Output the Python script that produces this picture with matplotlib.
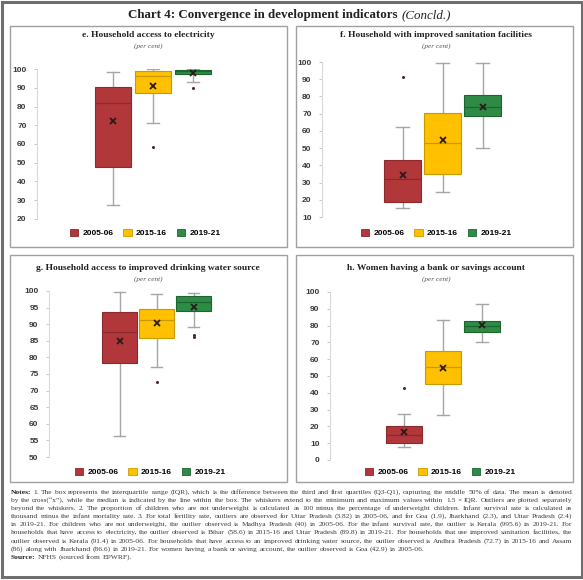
import math
import matplotlib.pyplot as plt
from matplotlib.patches import Rectangle, Patch
from matplotlib.font_manager import FontProperties

# ---- data ----
years = ["2005-06", "2015-16", "2019-21"]
colors = ["#B2373A", "#FFC000", "#2E8B45"]
edges = ["#8A2A2C", "#C99A00", "#1E6430"]

# e. Household access to electricity
elec_lo = [27.7, 71.2, 93.2]
elec_q1 = [47.5, 87.0, 97.2]
elec_med = [82.0, 96.3, 99.0]
elec_q3 = [90.6, 98.9, 99.5]
elec_hi = [98.5, 99.8, 100.0]
elec_mean = [72.5, 91.2, 98.1]
elec_out = [[], [58.6], [89.8]]

# f. Household with improved sanitation facilities
san_lo = [15.2, 24.7, 49.9]
san_q1 = [18.9, 35.2, 68.8]
san_med = [32.1, 53.2, 74.1]
san_q3 = [43.3, 70.6, 81.0]
san_hi = [62.1, 99.2, 99.6]
san_mean = [34.2, 54.9, 74.0]
san_out = [[91.4], [], []]

# g. Household access to improved drinking water source
wat_lo = [56.2, 77.2, 89.1]
wat_q1 = [78.3, 85.9, 94.0]
wat_med = [87.5, 91.2, 96.7]
wat_q3 = [93.7, 94.5, 98.5]
wat_hi = [99.6, 99.2, 99.4]
wat_mean = [84.9, 90.3, 95.3]
wat_out = [[], [72.7], [86.0, 86.6]]

# h. Women having a bank or savings account
bank_lo = [7.8, 26.5, 70.3]
bank_q1 = [10.4, 45.2, 76.3]
bank_med = [15.1, 55.4, 79.9]
bank_q3 = [20.3, 64.9, 82.9]
bank_hi = [27.5, 83.1, 92.8]
bank_mean = [16.5, 55.0, 80.1]
bank_out = [[42.9], [], []]

notes_lines = [
    "Notes: 1. The box represents the interquartile range (IQR), which is the difference between the third and first quartiles (Q3-Q1), capturing the middle 50% of data. The mean is denoted",
    "by the cross(\u201cx\u201d), while the median is indicated by the line within the box. The whiskers extend to the minimum and maximum values within 1.5 \u00d7 IQR. Outliers are plotted separately",
    "beyond the whiskers. 2. The proportion of children who are not underweight is calculated as 100 minus the percentage of underweight children. Infant survival rate is calculated as",
    "thousand minus the infant mortality rate. 3. For total fertility rate, outliers are observed for Uttar Pradesh (3.82) in 2005-06, and for Goa (1.9), Jharkhand (2.3), and Uttar Pradesh (2.4)",
    "in 2019-21. For children who are not underweight, the outlier observed is Madhya Pradesh (40) in 2005-06. For the infant survival rate, the outlier is Kerala (995.6) in 2019-21. For",
    "households that have access to electricity, the outlier observed is Bihar (58.6) in 2015-16 and Uttar Pradesh (89.8) in 2019-21. For households that use improved sanitation facilities, the",
    "outlier observed is Kerala (91.4) in 2005-06. For households that have access to an improved drinking water source, the outlier observed is Andhra Pradesh (72.7) in 2015-16 and Assam",
    "(86) along with Jharkhand (86.6) in 2019-21. For women having a bank or saving account, the outlier observed is Goa (42.9) in 2005-06.",
    "Source: NFHS (sourced from EPWRF).",
]

W, H = 583, 580
fig = plt.figure(figsize=(W / 100, H / 100), dpi=100)
fig.patch.set_facecolor("white")


def fx(px):
    return px / W


def fy(py):
    return 1 - py / H


# outer frame and panel borders
fig.add_artist(Rectangle((fx(1.5), fy(577)), fx(580), 575.5 / H, transform=fig.transFigure,
                         fill=False, edgecolor="#6E6E6E", lw=2.2))
for (x0, y0, x1, y1) in [(10, 26, 287, 247), (296, 26, 573, 247),
                         (10, 255, 287, 482), (296, 255, 573, 482)]:
    fig.add_artist(Rectangle((fx(x0), fy(y1)), fx(x1 - x0), (y1 - y0) / H,
                             transform=fig.transFigure, fill=False,
                             edgecolor="#A0A0A0", lw=1.0))

fig.text(fx(398), fy(15), "Chart 4: Convergence in development indicators", ha="right",
         va="center", family="Liberation Serif", weight="bold", fontsize=9.4,
         color="#222222")
fig.text(fx(402), fy(15), "(Concld.)", ha="left", va="center", family="Liberation Serif",
         style="italic", fontsize=9.4, color="#222222")

# panel layouts: axis-line x, y of top tick, y of bottom tick, centre of boxes, spacing (px)
panels = [
    dict(title="e. Household access to electricity", ax_x=37, top=69, bot=219, ctr=153, sp=40,
         ylim=(20, 100), step=10, lo=elec_lo, q1=elec_q1, med=elec_med, q3=elec_q3, hi=elec_hi,
         mean=elec_mean, out=elec_out, tx=148, ty=35, ly=233, lx=145),
    dict(title="f. Household with improved sanitation facilities", ax_x=322, top=62, bot=217, ctr=442.5,
         sp=40, ylim=(10, 100), step=10, lo=san_lo, q1=san_q1, med=san_med, q3=san_q3, hi=san_hi,
         mean=san_mean, out=san_out, tx=436, ty=35, ly=233, lx=436),
    dict(title="g. Household access to improved drinking water source", ax_x=49, top=291, bot=457,
         ctr=156.5, sp=37, ylim=(50, 100), step=5, lo=wat_lo, q1=wat_q1, med=wat_med, q3=wat_q3,
         hi=wat_hi, mean=wat_mean, out=wat_out, tx=148, ty=268, ly=472, lx=150),
    dict(title="h. Women having a bank or savings account", ax_x=330, top=292, bot=460, ctr=443,
         sp=39, ylim=(0, 100), step=10, lo=bank_lo, q1=bank_q1, med=bank_med, q3=bank_q3,
         hi=bank_hi, mean=bank_mean, out=bank_out, tx=436, ty=268, ly=472, lx=440),
]

for p in panels:
    half = p["ctr"] - p["ax_x"]
    ax = fig.add_axes([fx(p["ax_x"]), fy(p["bot"]), fx(2 * half), (p["bot"] - p["top"]) / H])
    stats = []
    for i in range(3):
        stats.append(dict(whislo=p["lo"][i], q1=p["q1"][i], med=p["med"][i], q3=p["q3"][i],
                          whishi=p["hi"][i], mean=p["mean"][i], fliers=p["out"][i]))
    bp = ax.bxp(stats, positions=[1, 2, 3], widths=0.92, capwidths=0.32, showmeans=True,
                patch_artist=True,
                whiskerprops=dict(color="#A6A6A6", lw=1.0),
                capprops=dict(color="#A6A6A6", lw=1.0),
                meanprops=dict(marker="x", markersize=4.5, markeredgecolor="#2A1A1A",
                               markeredgewidth=1.3),
                flierprops=dict(marker="o", markersize=2.2, markeredgewidth=0,
                                markerfacecolor="#4A2A20"))
    for i in range(3):
        bp["boxes"][i].set_facecolor(colors[i])
        bp["boxes"][i].set_edgecolor(edges[i])
        bp["boxes"][i].set_linewidth(0.8)
        bp["medians"][i].set_color(edges[i])
        bp["medians"][i].set_linewidth(0.9)
    # whiskers behind the boxes
    for ln in bp["whiskers"] + bp["caps"]:
        ln.set_zorder(1)
    xr = half / p["sp"]
    ax.set_xlim(2 - xr, 2 + xr)
    ax.set_ylim(*p["ylim"])
    ax.set_yticks(range(p["ylim"][0], p["ylim"][1] + 1, p["step"]))
    ax.set_xticks([])
    for s in ["top", "right", "bottom"]:
        ax.spines[s].set_visible(False)
    ax.spines["left"].set_color("#D9D9D9")
    ax.spines["left"].set_linewidth(0.8)
    ax.tick_params(axis="y", length=2.5, width=0.6, color="#BFBFBF", labelsize=6, pad=5,
                   labelcolor="#3A3A3A")
    for lab in ax.get_yticklabels():
        lab.set_fontweight("bold")
        lab.set_family("Liberation Sans")
    ax.patch.set_alpha(0)

    fig.text(fx(p["tx"]), fy(p["ty"]), p["title"], ha="center", va="center",
             family="Liberation Serif", weight="bold", fontsize=6.8, color="#222222")
    fig.text(fx(p["tx"]), fy(p["ty"] + 11), "(per cent)", ha="center", va="center",
             family="Liberation Serif", style="italic", fontsize=5.2, color="#555555")

    handles = [Patch(facecolor=colors[i], edgecolor=edges[i], lw=0.6) for i in range(3)]
    fig.legend(handles, years, loc="center", bbox_to_anchor=(fx(p["lx"]), fy(p["ly"])),
               ncol=3, frameon=False, handlelength=1.0, handleheight=0.9, handletextpad=0.5,
               columnspacing=1.2, prop=dict(family="Liberation Sans", weight="bold", size=6))

# notes block, justified word by word between x=11 and x=572.
# Each word is nudged so that its glyph baseline lands on the same pixel row.
fs = 5.4
renderer = fig.canvas.get_renderer()
left, right = 11, 572
for n, line in enumerate(notes_lines):
    base_row = int(round(494 + 8.1 * n))
    words = line.split(" ")
    objs = []
    for w in words:
        bold = w in ("Notes:", "Source:")
        prop = FontProperties(family="Liberation Serif", weight="bold" if bold else "normal",
                              size=fs)
        _, h, d = renderer.get_text_width_height_descent(w, prop, ismath=False)
        k = base_row - 2 + (math.floor(h) + 2) - math.floor(h - d)
        yb = k - d
        t = fig.text(0, (H - yb) / H, w, ha="left", va="baseline", fontproperties=prop,
                     color="#222222" if bold else "#3A3A3A")
        objs.append(t)
    widths = [t.get_window_extent(renderer).width for t in objs]
    space = fs * 0.25 * 100 / 72
    if n < 7:
        space = (right - left - sum(widths)) / (len(objs) - 1)
    x = left
    for t, wdt in zip(objs, widths):
        t.set_x(fx(x))
        x += wdt + space

fig.savefig("out.png", dpi=100)
